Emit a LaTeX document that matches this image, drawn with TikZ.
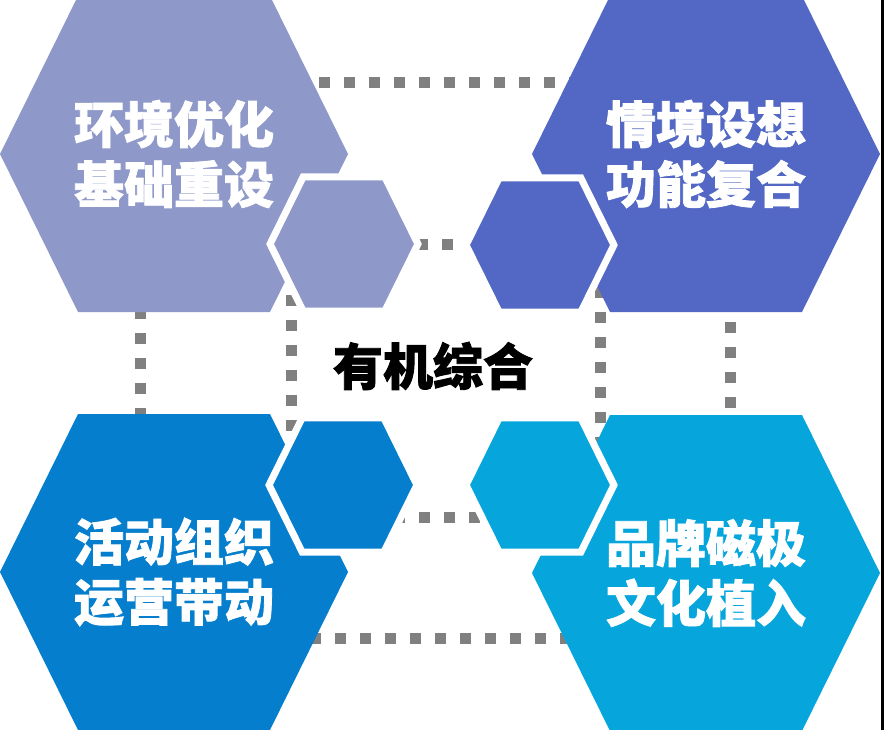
\documentclass[tikz,border=0pt]{standalone}
\usepackage{fontspec}
\newfontfamily\cjk{Noto Sans CJK SC}[BoldFeatures={FakeBold=1.6}]
\usetikzlibrary{positioning}

\definecolor{hexlav}{RGB}{143,153,201}
\definecolor{hexblue}{RGB}{82,104,196}
\definecolor{hexazure}{RGB}{4,126,205}
\definecolor{hexsky}{RGB}{6,166,221}
\definecolor{dotgray}{RGB}{128,128,128}

% one hexagon: centre, scale, path options
\newcommand{\hexshape}[3]{%
  \path[#3, shift={(#1)}, scale=#2] (-174,0) -- (-96,-158) -- (96,-158) -- (174,0) -- (96,158) -- (-96,158) -- cycle;}

\begin{document}
\begin{tikzpicture}[x=1pt, y=-1pt,
    dots/.style={draw=dotgray, line width=11pt, dash pattern=on 11pt off 14pt},
    smallhex/.style={draw=white, line width=7pt},
    hexlabel/.style={text=white, align=center, font=\cjk\bfseries\fontsize{50}{60}\selectfont},
    corelabel/.style={text=black, font=\cjk\bfseries\fontsize{50}{60}\selectfont}]
  \useasboundingbox (0,0) rectangle (884,730);

  \coordinate (tl) at (174,154);  \coordinate (tr) at (706,154);
  \coordinate (bl) at (174,572);  \coordinate (br) at (706,573);
  \coordinate (tls) at (344,244); \coordinate (trs) at (540,245);
  \coordinate (bls) at (343,485); \coordinate (brs) at (540,485);

  % dotted frames behind
  \coordinate (outer1) at (140,83);  \coordinate (outer2) at (730,638);
  \coordinate (inner1) at (291,245); \coordinate (inner2) at (600,517);
  \draw[dots] (outer1) rectangle (outer2);
  \draw[dots] (inner1) rectangle (inner2);

  % big hexagons
  \hexshape{tl}{1}{fill=hexlav}
  \hexshape{tr}{1}{fill=hexblue}
  \hexshape{bl}{1}{fill=hexazure}
  \hexshape{br}{1}{fill=hexsky}

  % small hexagons
  \hexshape{tls}{0.425}{smallhex, fill=hexlav}
  \hexshape{trs}{0.425}{smallhex, fill=hexblue}
  \hexshape{bls}{0.425}{smallhex, fill=hexazure}
  \hexshape{brs}{0.425}{smallhex, fill=hexsky}

  \node[hexlabel] (env) at (tl) {环境优化\\基础重设};
  \node[hexlabel] (scene) at (tr) {情境设想\\功能复合};
  \node[hexlabel] (event) at (bl) {活动组织\\运营带动};
  \node[hexlabel] (brand) at (br) {品牌磁极\\文化植入};
  \node[corelabel] (core) at (433,366) {有机综合};

  \fill[black] (881,0) rectangle (884,730);
\end{tikzpicture}
\end{document}
